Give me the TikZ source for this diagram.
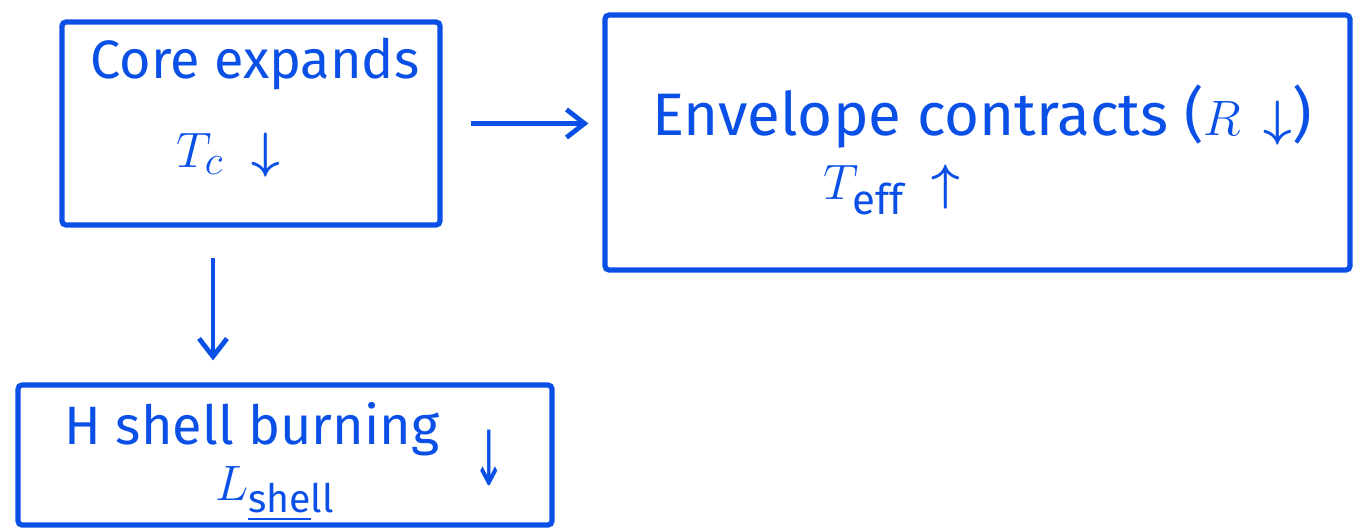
\documentclass[tikz,border=0pt]{standalone}
\usepackage{amsmath}
\usepackage{fontspec}
\setmainfont{Fira Sans}
\newfontfamily\symfont{DejaVu Sans}
\usetikzlibrary{arrows.meta}
\definecolor{ink}{RGB}{10,80,230}
\begin{document}
\begin{tikzpicture}[x=0.5pt,y=-0.5pt,
  box/.style={draw=ink,line width=2.6pt,inner sep=0pt,rounded corners=2pt},
  txt/.style={text=ink,font=\fontsize{27}{30}\selectfont,inner sep=0pt},
  big/.style={txt,font=\fontsize{30}{34}\selectfont},
  conn/.style={draw=ink,line width=2.4pt,-{Straight Barb[length=9pt,width=14pt,line width=2.4pt]}}]
\useasboundingbox (0,0) rectangle (1360,531);
\node[box,minimum width=189pt,minimum height=101.5pt] (core) at (251,123.5) {};
\node[box,minimum width=372.5pt,minimum height=127.5pt] (env) at (977.5,142.5) {};
\node[box,minimum width=267pt,minimum height=70pt] (hsh) at (285,455) {};
\node[txt] (t1) at (255,64) {Core expands};
\node[big] (t2) at (228,155) {$T_{c}\;\boldsymbol{\downarrow}$};
\node[big] (t3) at (982,117) {Envelope contracts (\(R\,\boldsymbol{\downarrow}\))};
\node[big] (t4) at (892,190) {$T_{\mathrm{eff}}\;\boldsymbol{\uparrow}$};
\node[txt,font=\fontsize{27}{30}\selectfont] (t5) at (252,429) {H shell burning};
\node[txt] (t6) at (489,458) {\symfont\fontsize{20}{20}\selectfont\scalebox{1}[1.9]{↓}};
\node[txt,font=\fontsize{28}{30}\selectfont] (t7) at (275,494) {$L_{\mathrm{\underline{she}ll}}$};
\draw[conn,shorten <=14pt,shorten >=7pt] (core.east) -- (core.east -| env.west);
\draw[conn,shorten <=15pt,shorten >=11pt] ([xshift=-19pt]core.south) -- ([xshift=-36pt]hsh.north);
\end{tikzpicture}
\end{document}
